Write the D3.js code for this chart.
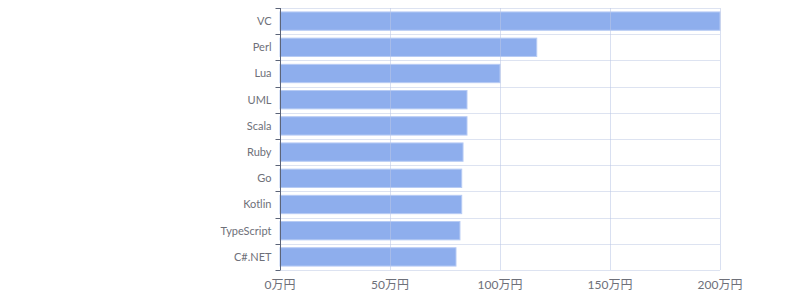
<!DOCTYPE html>
<html>
<head>
<meta charset="utf-8">
<script src="https://cdn.jsdelivr.net/npm/d3@7"></script>
<style>
  body { margin: 0; background: #fff; }
  text { font-family: Lato, "Noto Sans CJK JP", sans-serif; }
</style>
</head>
<body>
<div id="chart"></div>
<script>
// データ
const categories = ["VC", "Perl", "Lua", "UML", "Scala", "Ruby", "Go", "Kotlin", "TypeScript", "C#.NET"];
const values = [200, 116.7, 100, 85, 85, 83.2, 82.6, 82.6, 81.8, 80]; // 万円
const xTicks = [0, 50, 100, 150, 200];

const width = 800, height = 300;
const margin = {top: 8, right: 80, bottom: 30, left: 280};

const svg = d3.select("#chart").append("svg")
  .attr("width", width)
  .attr("height", height);

const x = d3.scaleLinear()
  .domain([0, 200])
  .range([margin.left, width - margin.right]);

const y = d3.scaleBand()
  .domain(categories)
  .range([margin.top, height - margin.bottom])
  .paddingInner(0.3)
  .paddingOuter(0.15);

const gridColor = "#dde3f1";
const textColor = "#6e7079";

// 横グリッド（カテゴリの境目）
const bounds = d3.range(categories.length + 1).map(i => margin.top + i * (height - margin.top - margin.bottom) / categories.length);
svg.append("g").selectAll("line")
  .data(bounds)
  .enter().append("line")
  .attr("x1", margin.left).attr("x2", x(200))
  .attr("y1", d => Math.round(d) + 0.5).attr("y2", d => Math.round(d) + 0.5)
  .attr("stroke", gridColor);

// バー
svg.append("g").selectAll("rect")
  .data(values)
  .enter().append("rect")
  .attr("x", x(0))
  .attr("y", (d, i) => y(categories[i]))
  .attr("width", d => x(d) - x(0))
  .attr("height", y.bandwidth())
  .attr("fill", "#8eaeed")
  .attr("stroke", "#b7cbf4")
  .attr("stroke-width", 1);

// 縦グリッド（バーの上に半透明）
svg.append("g").selectAll("line")
  .data(xTicks.slice(1))
  .enter().append("line")
  .attr("x1", d => Math.round(x(d)) + 0.5).attr("x2", d => Math.round(x(d)) + 0.5)
  .attr("y1", margin.top).attr("y2", height - margin.bottom)
  .attr("stroke", "#b9c6e6")
  .attr("stroke-opacity", 0.55);

// Y軸
const yAxis = svg.append("g")
  .attr("transform", `translate(${margin.left + 0.5},0)`);
yAxis.append("line")
  .attr("y1", margin.top).attr("y2", height - margin.bottom)
  .attr("stroke", "#5c6478");
yAxis.selectAll(".tick")
  .data(bounds)
  .enter().append("line")
  .attr("x1", -5).attr("x2", 0)
  .attr("y1", d => Math.round(d) + 0.5).attr("y2", d => Math.round(d) + 0.5)
  .attr("stroke", "#5c6478");
yAxis.selectAll("text")
  .data(categories)
  .enter().append("text")
  .attr("x", -9)
  .attr("y", d => y(d) + y.bandwidth() / 2)
  .attr("dy", "0.35em")
  .attr("text-anchor", "end")
  .attr("font-size", 11)
  .attr("fill", textColor)
  .text(d => d);

// X軸ラベル
svg.append("g").selectAll("text")
  .data(xTicks)
  .enter().append("text")
  .attr("x", d => x(d))
  .attr("y", height - margin.bottom + 19)
  .attr("text-anchor", "middle")
  .attr("font-size", 12)
  .attr("fill", textColor)
  .text(d => d + "万円");
</script>
</body>
</html>
